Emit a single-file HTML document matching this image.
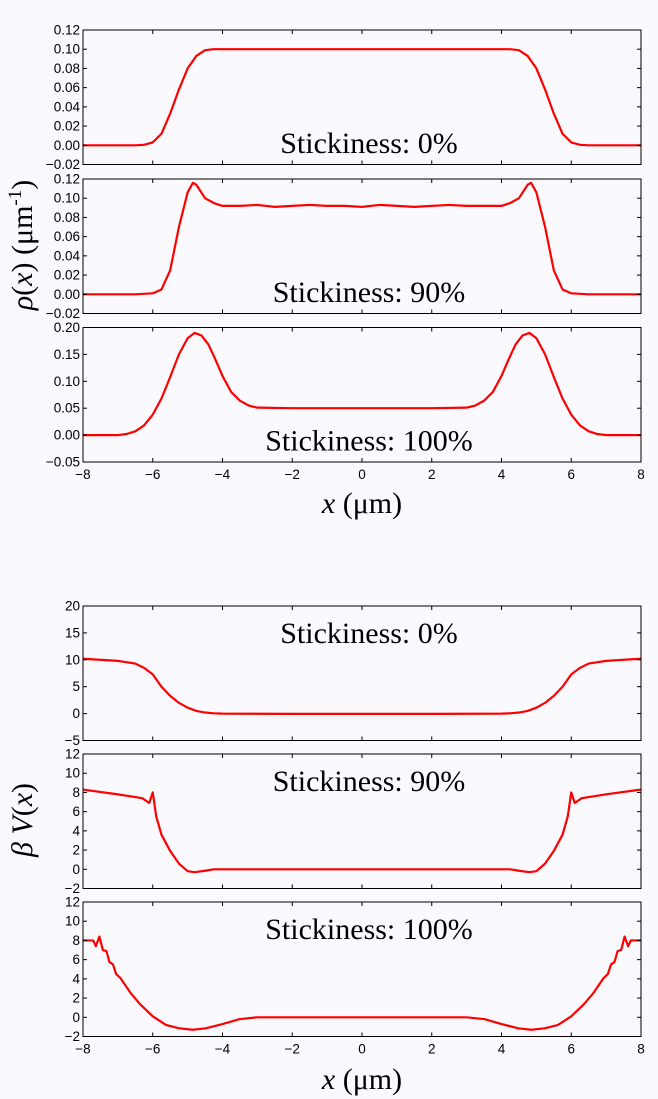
<!DOCTYPE html>
<html><head><meta charset="utf-8"><style>
html,body{margin:0;padding:0;background:#f9f9fe;}
svg{display:block;}
.tk{font-family:"Liberation Sans",sans-serif;font-size:13.5px;fill:#000;}
.st{font-family:"Liberation Serif",serif;font-size:30px;fill:#000;}
.lab{font-family:"Liberation Serif",serif;font-size:30px;fill:#000;}
</style></head><body>
<svg id="chart" width="658" height="1099" viewBox="0 0 658 1099" xmlns="http://www.w3.org/2000/svg">
<rect x="0" y="0" width="658" height="1099" fill="#f9f9fe"/>
<text class="lab" x="0" y="0" transform="translate(32,245) rotate(-90)" text-anchor="middle"><tspan font-style="italic">ρ</tspan>(<tspan font-style="italic">x</tspan>) (μm<tspan dy="-11" font-size="19">-1</tspan><tspan dy="11">)</tspan></text>
<text class="lab" x="0" y="0" transform="translate(32,820) rotate(-90)" text-anchor="middle"><tspan font-style="italic">β V</tspan>(<tspan font-style="italic">x</tspan>)</text>
<text class="lab" x="362" y="513" text-anchor="middle"><tspan font-style="italic">x</tspan> (μm)</text>
<text class="lab" x="362" y="1089" text-anchor="middle"><tspan font-style="italic">x</tspan> (μm)</text>
</svg>
<script>
const xTicks = [-8,-6,-4,-2,0,2,4,6,8];
const xTickLabels = ["\u22128","\u22126","\u22124","\u22122","0","2","4","6","8"];
const rhoTicks1 = [-0.02,0,0.02,0.04,0.06,0.08,0.10,0.12];
const rhoTicks3 = [-0.05,0,0.05,0.10,0.15,0.20];
const vTicks1 = [-5,0,5,10,15,20];
const vTicks2 = [-2,0,2,4,6,8,10,12];
const panelLabels = ["Stickiness: 0%","Stickiness: 90%","Stickiness: 100%","Stickiness: 0%","Stickiness: 90%","Stickiness: 100%"];

const xs1 = [-8,-7,-6.5,-6.25,-6,-5.75,-5.5,-5.25,-5,-4.75,-4.5,-4.25,-4,-3,-2,-1,0,1,2,3,4,4.25,4.5,4.75,5,5.25,5.5,5.75,6,6.25,6.5,7,8];
const rho0 = [0,0,0,0.0005,0.003,0.012,0.033,0.058,0.08,0.093,0.099,0.1,0.1,0.1,0.1,0.1,0.1,0.1,0.1,0.1,0.1,0.1,0.099,0.093,0.08,0.058,0.033,0.012,0.003,0.0005,0,0,0];

const xs2 = [-8,-6.5,-6,-5.75,-5.5,-5.25,-5,-4.85,-4.75,-4.5,-4.25,-4,-3.5,-3,-2.5,-2,-1.5,-1,-0.5,0,0.5,1,1.5,2,2.5,3,3.5,4,4.25,4.5,4.75,4.85,5,5.25,5.5,5.75,6,6.5,8];
const rho90 = [0,0,0.001,0.005,0.025,0.07,0.106,0.116,0.114,0.1,0.095,0.092,0.092,0.093,0.091,0.092,0.093,0.092,0.092,0.091,0.093,0.092,0.091,0.092,0.093,0.092,0.092,0.092,0.095,0.1,0.114,0.116,0.106,0.07,0.025,0.005,0.001,0,0];

const xs3 = [-8,-7,-6.75,-6.5,-6.25,-6,-5.75,-5.5,-5.25,-5,-4.8,-4.6,-4.4,-4.2,-4,-3.75,-3.5,-3.25,-3,-2,-1,0,1,2,3,3.25,3.5,3.75,4,4.2,4.4,4.6,4.8,5,5.25,5.5,5.75,6,6.25,6.5,6.75,7,8];
const rho100 = [0,0,0.002,0.007,0.018,0.038,0.068,0.108,0.15,0.18,0.19,0.185,0.168,0.14,0.11,0.08,0.064,0.055,0.051,0.05,0.05,0.05,0.05,0.05,0.051,0.055,0.064,0.08,0.11,0.14,0.168,0.185,0.19,0.18,0.15,0.108,0.068,0.038,0.018,0.007,0.002,0,0];

const xv1 = [-8,-7,-6.5,-6.25,-6,-5.75,-5.5,-5.25,-5,-4.75,-4.5,-4.25,-4,-2,0,2,4,4.25,4.5,4.75,5,5.25,5.5,5.75,6,6.25,6.5,7,8];
const v0 = [10.2,9.8,9.3,8.5,7.3,5,3.3,2,1.1,0.5,0.2,0.05,0,-0.05,-0.05,-0.05,0,0.05,0.2,0.5,1.1,2,3.3,5,7.3,8.5,9.3,9.8,10.2];

const xv2 = [-8,-7,-6.3,-6.1,-6,-5.9,-5.75,-5.5,-5.25,-5,-4.8,-4.5,-4.25,-4,-2,0,2,4,4.25,4.5,4.8,5,5.25,5.5,5.75,5.9,6,6.1,6.3,7,8];
const v90 = [8.3,7.8,7.4,6.9,8,5.5,3.6,1.9,0.6,-0.2,-0.3,-0.15,0,0,0,0,0,0,0,-0.15,-0.3,-0.2,0.6,1.9,3.6,5.5,8,6.9,7.4,7.8,8.3];

const xv3 = [-8,-7.71,-7.63,-7.53,-7.43,-7.33,-7.24,-7.14,-7.05,-6.93,-6.64,-6.36,-6,-5.62,-5.24,-4.86,-4.48,-4,-3.52,-3,-2,0,2,3,3.52,4,4.48,4.86,5.24,5.62,6,6.36,6.64,6.93,7.05,7.14,7.24,7.33,7.43,7.53,7.63,7.71,8];
const v100 = [8,8,7.4,8.4,7,6.9,5.75,5.5,4.5,4.1,2.55,1.35,0.1,-0.8,-1.15,-1.3,-1.15,-0.7,-0.2,0,0,0,0,0,-0.2,-0.7,-1.15,-1.3,-1.15,-0.8,0.1,1.35,2.55,4.1,4.5,5.5,5.75,6.9,7,8.4,7.4,8,8];

const NS='http://www.w3.org/2000/svg';
const svg=document.getElementById('chart');
const L=83, R=641, H=134.5;
function sx(v){return L+(v+8)/16*(R-L);}
function mk(tag,attrs){const e=document.createElementNS(NS,tag);for(const k in attrs)e.setAttribute(k,attrs[k]);svg.appendChild(e);return e;}

const panels=[
 {top:30,min:-0.02,max:0.12,ticks:rhoTicks1,dec:2,xs:xs1,ys:rho0,lab:0,showX:false,name:'rho-0',ty:123},
 {top:179,min:-0.02,max:0.12,ticks:rhoTicks1,dec:2,xs:xs2,ys:rho90,lab:1,showX:false,name:'rho-90',ty:123},
 {top:327.5,min:-0.05,max:0.20,ticks:rhoTicks3,dec:2,xs:xs3,ys:rho100,lab:2,showX:true,name:'rho-100',ty:123},
 {top:606,min:-5,max:20,ticks:vTicks1,dec:0,xs:xv1,ys:v0,lab:3,showX:false,name:'v-0',ty:37},
 {top:754,min:-2,max:12,ticks:vTicks2,dec:0,xs:xv2,ys:v90,lab:4,showX:false,name:'v-90',ty:37},
 {top:902,min:-2,max:12,ticks:vTicks2,dec:0,xs:xv3,ys:v100,lab:5,showX:true,name:'v-100',ty:37}
];
panels.forEach(p=>{
 const sy=v=>p.top+H-(v-p.min)/(p.max-p.min)*H;
 let d='';
 p.xs.forEach((x,i)=>{d+=(i?'L':'M')+sx(x).toFixed(2)+','+sy(p.ys[i]).toFixed(2);});
 const c=mk('path',{d:d,fill:'none',stroke:'#ff0000','stroke-width':2.2,'stroke-linejoin':'round'});
 
 
 xTicks.forEach((t,i)=>{
  const x=sx(t);
  const a=mk('line',{x1:x,x2:x,y1:p.top+H,y2:p.top+H-4,stroke:'#000','stroke-width':1});
  
  
  const b=mk('line',{x1:x,x2:x,y1:p.top,y2:p.top+4,stroke:'#000','stroke-width':1});
  
  
  if(p.showX){
   const tx=mk('text',{x:x,y:p.top+H+17,'text-anchor':'middle',class:'tk'});
   tx.textContent=xTickLabels[i];
   
   
  }
 });
 p.ticks.forEach(t=>{
  const y=sy(t);
  const a=mk('line',{x1:L,x2:L+4,y1:y,y2:y,stroke:'#000','stroke-width':1});
  
  
  const b=mk('line',{x1:R,x2:R-4,y1:y,y2:y,stroke:'#000','stroke-width':1});
  
  
  const tx=mk('text',{x:L-3,y:y+4.5,'text-anchor':'end',class:'tk'});
  tx.textContent=(t<0?'\u2212':'')+Math.abs(t).toFixed(p.dec);
  
  
 });
 const fr=mk('rect',{x:L,y:p.top,width:R-L,height:H,fill:'none',stroke:'#000','stroke-width':1});
 
 
 const st=mk('text',{x:369,y:p.top+p.ty,'text-anchor':'middle',class:'st'});
 st.textContent=panelLabels[p.lab];
 
 
});
</script>
</body></html>
